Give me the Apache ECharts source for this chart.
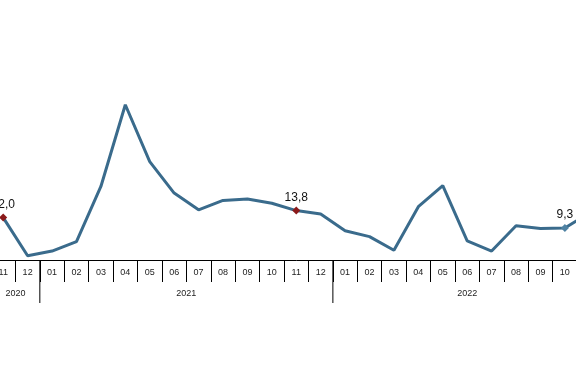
<!DOCTYPE html>
<html>
<head>
<meta charset="utf-8">
<script src="https://cdn.jsdelivr.net/npm/echarts@6/dist/echarts.min.js"></script>
<style>html,body{margin:0;padding:0;background:#fff;overflow:hidden;width:576px;height:380px;}#c{position:absolute;left:-8.8px;top:0;width:611px;height:380px;}</style>
</head>
<body>
<div id="c"></div>
<script>
var months = ['11','12','01','02','03','04','05','06','07','08','09','10','11','12','01','02','03','04','05','06','07','08','09','10','11'];
var values = [12.0, 2.2, 3.4, 5.8, 20.0, 41.0, 26.4, 18.3, 14.0, 16.4, 16.8, 15.7, 13.8, 12.9, 8.6, 7.1, 3.6, 14.8, 20.2, 6.0, 3.4, 9.9, 9.2, 9.3, 13.2];
var years = ['2020', '2021', '2022'];
var yearStart = [0, 2, 14];
var yearEnd = [1, 13, 24];
var labelled = [0, 12, 23];
var labelledColor = ['#8b1a1a', '#8b1a1a', '#4f82a3'];

var lineData = values.map(function (v, i) {
  var k = labelled.indexOf(i);
  if (k < 0) return { value: v };
  return {
    value: v,
    symbol: 'diamond',
    symbolSize: 8,
    itemStyle: { color: labelledColor[k] },
    label: {
      show: true,
      position: 'top',
      distance: 3,
      formatter: function (p) { return p.value.toFixed(1).replace('.', ','); },
      color: '#111',
      fontSize: 12,
      fontFamily: 'Liberation Sans, Arial, sans-serif'
    }
  };
});

var yearData = years.map(function (y, i) { return [yearStart[i], yearEnd[i], y]; });

var chart = echarts.init(document.getElementById('c'), null, { renderer: 'canvas' });
chart.setOption({
  animation: false,
  backgroundColor: '#fff',
  grid: { left: 0, right: 0.5, top: 89.2, bottom: 120, containLabel: false },
  xAxis: {
    type: 'category',
    data: months,
    boundaryGap: true,
    axisLine: { lineStyle: { color: '#000', width: 1 } },
    axisTick: { show: true, interval: 0, length: 22, lineStyle: { color: '#000', width: 1 } },
    axisLabel: { interval: 0, margin: 8, fontSize: 9, color: '#222', fontFamily: 'Liberation Sans, Arial, sans-serif' },
    splitLine: { show: false }
  },
  yAxis: {
    type: 'value', min: 1.1, max: 45, show: false, splitLine: { show: false }
  },
  series: [
    {
      type: 'line',
      data: lineData,
      showSymbol: true,
      symbol: 'none',
      lineStyle: { color: '#3a6b8c', width: 3 },
      itemStyle: { color: '#3a6b8c' },
      z: 3
    },
    {
      type: 'custom',
      data: yearData,
      clip: false,
      silent: true,
      renderItem: function (params, api) {
        var s = api.value(0), e = api.value(1);
        var bw = api.size([1, 0])[0];
        var x0 = api.coord([s, 0])[0] - bw / 2;
        var x1 = api.coord([e, 0])[0] + bw / 2;
        var cs = params.coordSys;
        var axisY = cs.y + cs.height;
        return {
          type: 'group',
          children: [
            { type: 'line', shape: { x1: x0, y1: axisY, x2: x0, y2: axisY + 43 }, style: { stroke: '#000', lineWidth: 1 } },
            { type: 'text', style: { text: yearData[params.dataIndex][2], x: (x0 + x1) / 2, y: axisY + 34, align: 'center', verticalAlign: 'middle', fill: '#222', fontSize: 9, fontFamily: 'Liberation Sans, Arial, sans-serif' } }
          ]
        };
      }
    }
  ]
});
</script>
</body>
</html>
